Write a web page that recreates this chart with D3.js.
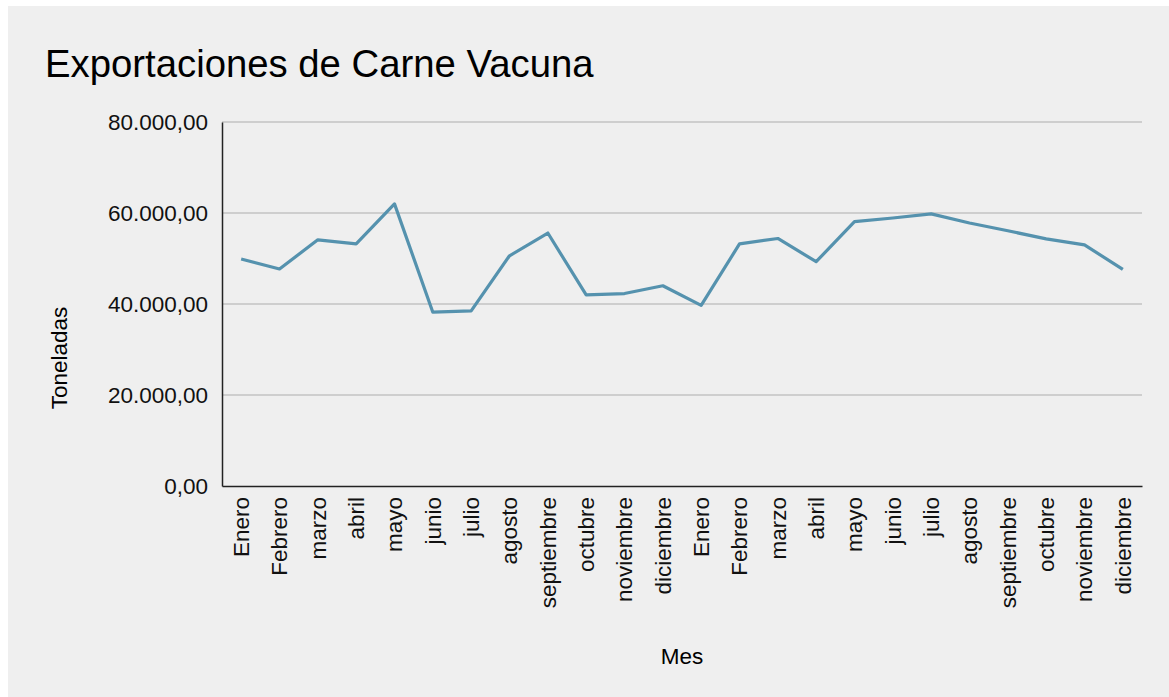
<!DOCTYPE html>
<html lang="es">
<head>
    <meta charset="UTF-8">
    <title>Exportaciones de Carne Vacuna</title>
    <script src="https://d3js.org/d3.v7.min.js"></script>
    <style>
        body { margin: 0; background: #fff; }
        svg { display: block; font-family: "Liberation Sans", Arial, sans-serif; }
        .grid line { stroke: #c3c3c3; stroke-width: 1.5px; }
        .axis text { fill: #111; font-size: 22.5px; }
    </style>
</head>
<body>
    <svg id="chart" width="1169" height="697"></svg>

    <script>
        // Data
        const months = ["Enero", "Febrero", "marzo", "abril", "mayo", "junio", "julio", "agosto",
            "septiembre", "octubre", "noviembre", "diciembre",
            "Enero", "Febrero", "marzo", "abril", "mayo", "junio", "julio", "agosto",
            "septiembre", "octubre", "noviembre", "diciembre"];
        const toneladas = [49900, 47700, 54100, 53200, 62000, 38200, 38500, 50600,
            55600, 42000, 42300, 44000,
            39700, 53200, 54400, 49300, 58100, 58900, 59800, 57800,
            56100, 54300, 53000, 47600];
        const yTicks = [0, 20000, 40000, 60000, 80000];

        const data = months.map((m, i) => ({ key: i, label: m, value: toneladas[i] }));

        const svg = d3.select("#chart");
        const margin = { top: 122, right: 27, bottom: 211, left: 222 };
        const width = 1169 - margin.left - margin.right;
        const height = 697 - margin.top - margin.bottom;

        // Background panel
        svg.append("rect")
            .attr("x", 8).attr("y", 6)
            .attr("width", 1169).attr("height", 697)
            .attr("fill", "#efefef");

        // Title
        svg.append("text")
            .attr("x", 45).attr("y", 77)
            .attr("font-size", 38.3)
            .attr("fill", "#000")
            .text("Exportaciones de Carne Vacuna");

        const g = svg.append("g").attr("transform", `translate(${margin.left},${margin.top})`);

        const x = d3.scaleBand()
            .domain(data.map(d => d.key))
            .range([0, width]);

        const y = d3.scaleLinear()
            .domain([0, 80000])
            .range([height, 0]);

        const fmt = v => d3.format(",.2f")(v).replace(/,/g, "#").replace(".", ",").replace(/#/g, ".");

        // Gridlines
        g.append("g").attr("class", "grid")
            .selectAll("line")
            .data(yTicks.filter(t => t > 0))
            .enter().append("line")
            .attr("x1", 0).attr("x2", width)
            .attr("y1", d => y(d)).attr("y2", d => y(d));

        // Y axis
        const yAxis = g.append("g").attr("class", "axis")
            .call(d3.axisLeft(y).tickValues(yTicks).tickFormat(fmt).tickSize(0).tickPadding(14));
        yAxis.select(".domain").attr("stroke", "#222").attr("stroke-width", 1.5);

        // X axis
        const xAxis = g.append("g").attr("class", "axis")
            .attr("transform", `translate(0,${height})`)
            .call(d3.axisBottom(x).tickFormat(i => months[i]).tickSize(0));
        xAxis.select(".domain").attr("stroke", "#222").attr("stroke-width", 1.5);
        xAxis.selectAll("text")
            .attr("text-anchor", "end")
            .attr("transform", "rotate(-90)")
            .attr("x", -11)
            .attr("y", 0)
            .attr("dy", "0.35em");

        // Line
        const line = d3.line()
            .x(d => x(d.key) + x.bandwidth() / 2)
            .y(d => y(d.value));

        g.append("path")
            .datum(data)
            .attr("fill", "none")
            .attr("stroke", "#5592ae")
            .attr("stroke-width", 3.2)
            .attr("stroke-linejoin", "round")
            .attr("d", line);

        // Axis titles
        svg.append("text")
            .attr("transform", "translate(67,358) rotate(-90)")
            .attr("text-anchor", "middle")
            .attr("font-size", 22.5)
            .text("Toneladas");

        svg.append("text")
            .attr("x", margin.left + width / 2).attr("y", 664)
            .attr("text-anchor", "middle")
            .attr("font-size", 22.5)
            .text("Mes");
    </script>
</body>
</html>
